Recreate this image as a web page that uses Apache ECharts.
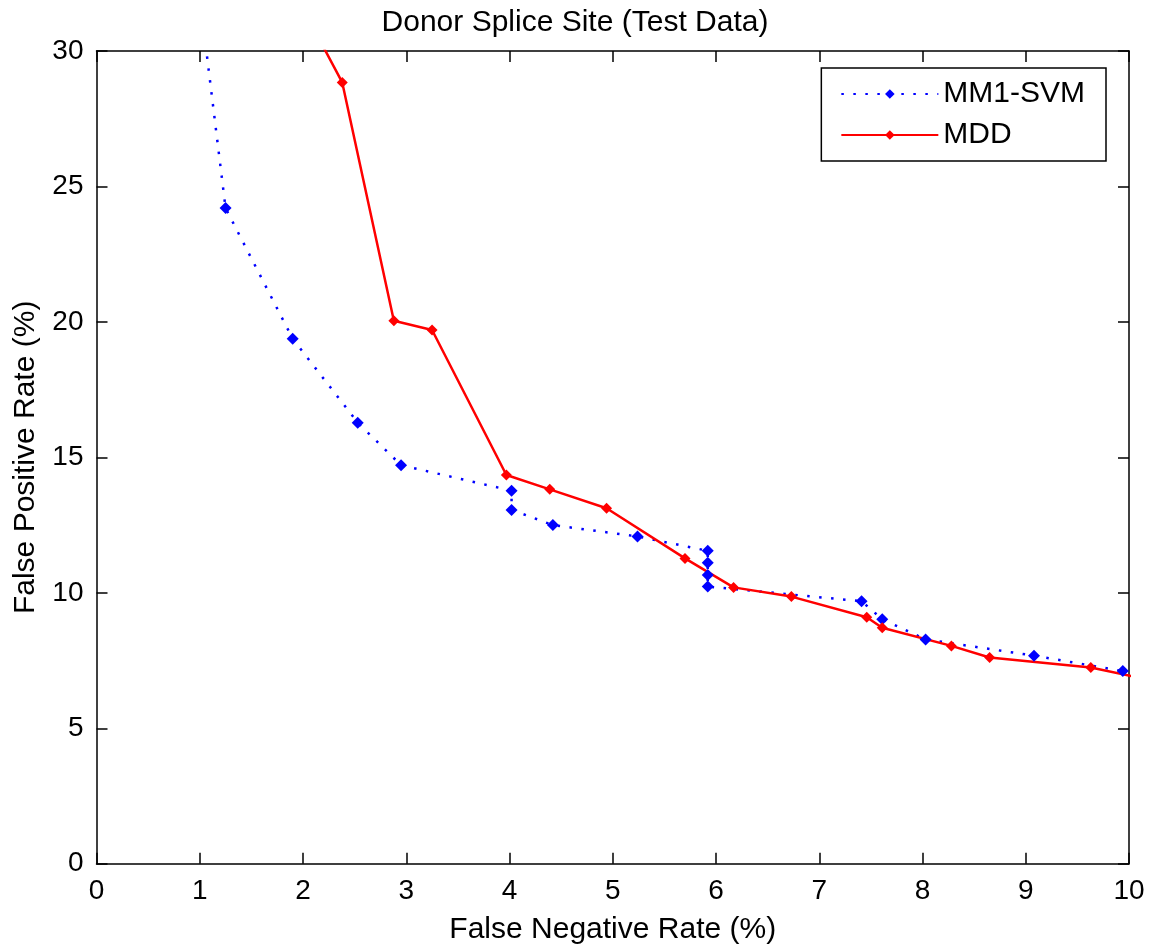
<!DOCTYPE html>
<html>
<head>
<meta charset="utf-8">
<script src="https://cdn.jsdelivr.net/npm/echarts@6/dist/echarts.min.js"></script>
<style>
html, body { margin: 0; padding: 0; background: #fff; }
#chart { width: 1150px; height: 949px; }
</style>
</head>
<body>
<div id="chart"></div>
<script>
// values (first/last points sit outside the box and get clipped)
var svm_fnr = [1.0, 1.25, 1.90, 2.53, 2.95, 4.02, 4.02, 4.42, 5.24, 5.92, 5.92, 5.92, 5.92, 7.41, 7.61, 8.03, 9.08, 9.94];
var svm_fpr = [32.0, 24.2, 19.38, 16.28, 14.71, 13.77, 13.06, 12.5, 12.08, 11.55, 11.11, 10.66, 10.23, 9.69, 9.02, 8.28, 7.68, 7.11];

var mdd_fnr = [1.8, 2.38, 2.88, 3.25, 3.97, 4.39, 4.94, 5.70, 6.17, 6.73, 7.46, 7.61, 8.28, 8.65, 9.63, 10.3];
var mdd_fpr = [33.0, 28.84, 20.04, 19.70, 14.35, 13.82, 13.12, 11.27, 10.20, 9.86, 9.10, 8.71, 8.04, 7.61, 7.24, 6.7];

var x_ticks = [0, 10, 1];   // min, max, step
var y_ticks = [0, 30, 5];

function pairs(xs, ys) {
    var out = [];
    for (var i = 0; i < xs.length; i++) {
        out.push([xs[i], ys[i]]);
    }
    return out;
}

var font = 'Liberation Sans, Arial, sans-serif';
var axisBase = {
    axisLine: { show: true, onZero: false, lineStyle: { color: '#000', width: 1.5 } },
    axisTick: { show: true, inside: true, length: 11, lineStyle: { color: '#000', width: 1.5 } },
    splitLine: { show: false }
};

function xAxis(pos, labels) {
    return Object.assign({}, axisBase, {
        type: 'value', position: pos,
        min: x_ticks[0], max: x_ticks[1], interval: x_ticks[2],
        axisLabel: { show: labels, color: '#000', fontSize: 28, fontFamily: font, margin: 14 },
        name: labels ? 'False Negative Rate (%)' : '',
        nameLocation: 'middle', nameGap: 51,
        nameTextStyle: { color: '#000', fontSize: 30, fontFamily: font }
    });
}

function yAxis(pos, labels) {
    return Object.assign({}, axisBase, {
        type: 'value', position: pos,
        min: y_ticks[0], max: y_ticks[1], interval: y_ticks[2],
        axisLabel: { show: labels, color: '#000', fontSize: 28, fontFamily: font, margin: 13 },
        name: labels ? 'False Positive Rate (%)' : '',
        nameLocation: 'middle', nameGap: 56,
        nameTextStyle: { color: '#000', fontSize: 30, fontFamily: font }
    });
}

var myChart = echarts.init(document.getElementById('chart'));
var option = {
    backgroundColor: '#fff',
    animation: false,
    title: {
        text: 'Donor Splice Site (Test Data)',
        left: 'center', top: 3,
        textStyle: { color: '#000', fontSize: 30, fontWeight: 'normal', fontFamily: font }
    },
    grid: { left: 96.5, right: 21, top: 51, bottom: 85.3, containLabel: false, outerBoundsMode: 'none' },
    legend: {
        orient: 'vertical',
        right: 44, top: 68,
        padding: [11, 21, 11, 19],
        itemWidth: 97, itemHeight: 12, itemGap: 11,
        borderColor: '#000', borderWidth: 1.5,
        backgroundColor: '#fff',
        textStyle: { color: '#000', fontSize: 30, fontFamily: font },
        data: ['MM1-SVM', 'MDD']
    },
    xAxis: [xAxis('bottom', true), xAxis('top', false)],
    yAxis: [yAxis('left', true), yAxis('right', false)],
    series: [
        {
            name: 'MM1-SVM',
            type: 'line',
            data: pairs(svm_fnr, svm_fpr),
            symbol: 'diamond', symbolSize: 12,
            itemStyle: { color: '#0000ff' },
            lineStyle: { color: '#0000ff', width: 2.5, type: [2.5, 9.5] },
            clip: true
        },
        {
            name: 'MDD',
            type: 'line',
            data: pairs(mdd_fnr, mdd_fpr),
            symbol: 'diamond', symbolSize: 11,
            itemStyle: { color: '#ff0000' },
            lineStyle: { color: '#ff0000', width: 2.5 },
            clip: true
        }
    ]
};
myChart.setOption(option);
</script>
</body>
</html>
